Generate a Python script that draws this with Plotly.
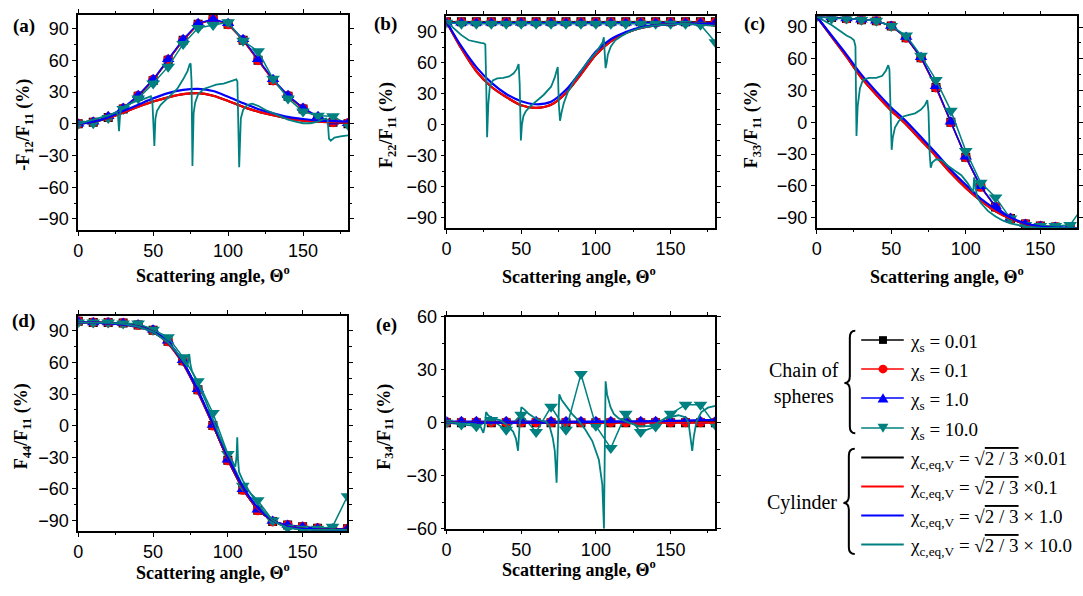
import plotly.graph_objects as go

W, H = 1083, 596

# ---------------- data ----------------
ANG = [0, 10, 20, 30, 40, 50, 60, 70, 80, 90, 100, 110, 120, 130, 140, 150, 160, 170, 180]

# (a) -F12/F11
A_S001 = [0, 1.5, 6, 14, 26, 41, 60, 79, 94, 99, 94, 79, 60, 41, 26, 14, 6, 1.5, 0]
A_S01 = [0, 1.5, 6, 14.5, 26.5, 41.5, 60.5, 79, 94, 99, 94, 79, 60, 41, 26.5, 14.5, 6, 1.5, 0.5]
A_S1 = [0, 2, 7, 15, 27, 42, 61, 80, 95, 99, 95, 80, 61, 42, 27, 15, 7, 2, 0.5]
A_S10 = [0, 0.5, 5.5, 14, 24, 38, 54, 75.5, 90.5, 93.5, 96, 78.5, 68.5, 42.5, 24, 11.5, 7.5, 7, -1]
A_C001 = [0, 2, 5.5, 10.5, 16, 21, 25, 28, 29, 26.5, 21.5, 16, 11.5, 8, 5, 3, 2, 1.5, 1]
A_C01 = [0, 2, 5.5, 10.5, 16, 21, 25, 28, 29, 26.5, 21.5, 16, 11.5, 8, 5, 3, 2, 1.5, 1]
A_C1 = [0, 2, 6, 12, 18, 24, 29, 32, 33, 31, 25.5, 19.5, 14, 10, 6.5, 4.5, 3, 2.5, 2]
A_C10 = [(0, 0), (5, 2), (10, 3.5), (15, 5.5), (20, 8), (24, 10), (25.5, 11), (26.5, 8), (27.2, -7),
         (28, 10), (29, 15), (32, 17.5), (36, 20), (40, 22), (44, 23.5), (47, 25), (48.5, 26),
         (49.5, 20), (50.2, -5), (50.8, -21), (51.5, 5), (52.5, 12), (55, 18), (58, 22), (62, 27),
         (66, 33), (70, 42), (73, 50), (74.3, 56), (75, 57), (75.6, 40), (76.2, -40), (77, 10),
         (78, 20), (80, 28), (84, 33), (88, 35), (92, 37), (97, 38), (101, 40), (104, 41),
         (105.5, 42), (106.2, 40), (106.8, 0), (107.4, -41), (108.5, 5), (110, 13), (113, 18),
         (116, 19), (120, 17), (125, 13), (130, 10), (135, 7), (140, 4), (145, 2), (150, 0.5),
         (155, 0.5), (160, 2), (164, 4.5), (165.5, 5), (166.5, 3), (167.3, -14), (168.5, -16),
         (171, -13), (175, -12), (180, -11)]

# (b) F22/F11
B_S001 = [100, 100, 100, 100, 100, 100, 100, 100, 100, 100, 100, 100, 100, 100, 100, 100, 100, 100, 100]
B_S01 = [99.5, 99.5, 99.5, 99.5, 99.5, 99.5, 99.5, 99.5, 99.5, 99.5, 99.5, 99.5, 99.5, 99.5, 99.5, 99.5, 99.5, 99.5, 99.5]
B_S1 = [99, 99, 99, 99, 99, 99, 99, 99, 99, 99, 99, 99, 99, 99, 99, 99, 99, 99, 99]
B_S10 = [99, 98, 98, 98, 98, 98, 98, 98, 98, 98, 98, 98, 98, 98, 98, 98, 98, 97, 80]
B_C001 = [100, 74, 52, 37, 27, 19, 16.5, 19.5, 31, 49, 68, 81, 89, 94, 96.5, 97.5, 98, 98, 98]
B_C01 = [100, 74, 52, 37, 27, 19, 16.5, 19.5, 31, 49, 68, 81, 89, 94, 96.5, 97.5, 98, 98, 98]
B_C1 = [100, 76, 56, 41, 30, 23, 20, 22.5, 34, 52, 71, 83, 90, 94.5, 96.5, 97.5, 98, 98, 98]
B_C10 = [(0, 100), (5, 93), (10, 87), (15, 82), (20, 80), (23, 79.5), (25, 79), (26, 78),
         (26.6, 40), (27.2, -12), (28, 20), (29, 37), (31, 43), (34, 45), (38, 45.5), (42, 47),
         (45, 50), (47, 54), (48.3, 59), (49, 40), (49.8, -15), (50.5, 0), (51.5, 8.5), (53, 13),
         (56, 18), (60, 22.5), (65, 29), (70, 37), (72.5, 46), (73.8, 53), (74.5, 56), (75.2, 20),
         (76, 4), (77, 12), (78.5, 21), (81, 31), (85, 42), (90, 52), (95, 62), (100, 70),
         (103, 76), (104.5, 80), (105.3, 85), (105.8, 70), (106.5, 55), (107.2, 60), (108, 68),
         (110, 76), (113, 82), (117, 86), (122, 90), (130, 94), (140, 96.5), (150, 97.5),
         (160, 98), (170, 97), (180, 96)]

# (c) F33/F11
C_S001 = [100, 99, 98, 97, 96, 91, 80, 61, 33, 0, -33, -61, -80, -91, -96, -98, -99, -100, -100]
C_S01 = [100, 99, 98, 97, 96, 91, 80, 61, 33, 0, -33, -61, -80, -91, -96, -98, -99, -100, -100]
C_S1 = [100, 99, 98, 97, 96, 91, 80.5, 61.5, 34, 0.5, -32.5, -60.5, -79.5, -90.5, -96, -98, -99, -99.5, -100]
C_S10 = [100, 98, 98, 97, 96, 91, 82, 63, 40, 11, -27, -57, -71, -91, -97, -98, -98, -97, -77]
C_C001 = [100, 81, 62, 42, 26, 11, -2, -17, -32, -48, -62, -74, -84, -91, -96, -99, -100, -100, -100]
C_C01 = [100, 81, 62, 42, 26, 11, -2, -17, -32, -48, -62, -74, -84, -91, -96, -99, -100, -100, -100]
C_C1 = [100, 82, 64, 45, 29, 14, 1, -14, -29, -45, -59, -72, -82, -90, -95.5, -98.5, -99.5, -100, -100]
C_C10 = [(0, 100), (5, 96), (10, 92), (15, 87), (20, 82), (23, 80), (25, 77.5), (26, 72),
         (26.7, -13), (27.5, 15), (29, 32), (31, 40), (35, 42), (40, 42), (44, 44), (46.5, 49),
         (48, 54), (48.8, 50), (49.6, -10), (50.3, -26), (51, -15), (52.5, -5), (55, 1), (58, 5.5),
         (62, 7), (66, 8.5), (70, 12), (72.5, 16), (74.2, 21), (75, 10), (75.8, -30), (76.5, -43),
         (77.5, -38), (80, -35), (84, -36), (88, -41), (92, -45), (97, -50), (101, -57), (104, -63),
         (105, -66), (105.6, -52), (106.3, -60), (107.5, -70), (110, -76), (115, -84), (120, -89),
         (125, -93), (130, -95.5), (140, -98.5), (150, -99.5), (160, -100), (170, -100), (180, -100)]

# (d) F44/F11
D_S001 = [99, 98, 98, 97.5, 95.5, 90.5, 80, 61.5, 34, 0, -33, -61, -80.5, -91, -94.5, -96, -97.5, -98, -98]
D_S01 = [99, 98, 98, 97.5, 95.5, 90.5, 80, 61.5, 34, 0, -33, -61, -80.5, -91, -94.5, -96, -97.5, -98, -98]
D_S1 = [99, 98, 98, 97.5, 96, 91, 80.5, 62, 34.5, 0.5, -32.5, -60.5, -80, -90.5, -94.5, -96, -97.5, -98, -98]
D_S10 = [98, 98, 98, 97, 97, 91, 84, 65, 42, 12, -27, -57, -71, -90, -97, -98, -98, -96, -67]
D_C001 = [98, 98, 97, 96, 94, 89, 78, 59, 32, 1, -31, -59, -79, -90, -96, -98, -98.5, -99, -99]
D_C01 = [98, 98, 97, 96, 94, 89, 78, 59, 32, 1, -31, -59, -79, -90, -96, -98, -98.5, -99, -99]
D_C1 = [98, 98, 97, 96, 94, 89, 79, 60, 33, 2, -30, -58, -78, -90, -96, -98, -98.5, -99, -99]
D_C10 = [(0, 98), (10, 98), (20, 97.5), (30, 96.5), (40, 94), (50, 89), (60, 79), (65, 71),
         (70, 61), (73, 56), (74.2, 68), (75, 58), (76, 52), (80, 40), (85, 24), (90, 6),
         (95, -12), (100, -27), (103, -34), (105, -39), (105.8, -30), (106.3, -11), (106.8, -32),
         (107.5, -44), (110, -52), (115, -64), (120, -74), (125, -83), (130, -90), (135, -94),
         (140, -97), (150, -99), (160, -99), (170, -99), (180, -99)]

# (e) F34/F11
E_S001 = [0, 0, 0, 0, 0, 0, 0, 0, 0, 0, 0, 0, 0, 0, 0, 0, 0, 0, 0]
E_S01 = [0.3, 0.3, 0.3, 0.3, 0.3, 0.3, 0.3, 0.3, 0.3, 0.3, 0.3, 0.3, 0.3, 0.3, 0.3, 0.3, 0.3, 0.3, 0.3]
E_S1 = [0.8, 0.8, 0.8, 0.8, 0.8, 0.8, 0.8, 0.8, 0.8, 0.8, 0.8, 0.8, 0.8, 0.8, 0.8, 0.8, 0.8, 0.8, 0.8]
E_S10 = [0, -1, -2, 1.5, -4, 4.5, -5.3, 9, -4, 27.5, -1.8, -14.4, 5, -5.3, -2.2, 5, 10.2, 10.2, -1.3]
E_C001 = [0, 0, 0, 0, 0, 0, 0, 0, 0, 0, 0.1, 0.2, 0.3, 0.4, 0.5, 0.5, 0.5, 0.5, 0.5]
E_C01 = [0, 0, 0, 0, 0, 0, 0, 0, 0, 0, 0, 0, 0, 0, 0, 0, 0, 0, 0]
E_C1 = [0, 0, 0, 0, 0, 0, 0, 0.1, 0.2, 0.3, 0.4, 0.5, 0.6, 0.7, 0.8, 1, 1.2, 1.4, 1.5]
E_C10 = [(0, 0), (5, 0), (10, -0.5), (15, -0.5), (20, -1), (23, -2.5), (24.7, -5.8), (25.6, -2),
         (26.5, 6), (28, 4), (31, 2.5), (35.8, 1.5), (40, -1), (44.6, -5), (46.5, -9), (47.9, -15.9),
         (48.8, -3), (50.1, 8.8), (52, 7.5), (55, 5), (57.9, 3.3), (62, 1.5), (66.7, 0.5), (69, -2),
         (71.1, -8.5), (72.5, -16), (73.7, -34), (74.5, -10), (75.5, 16), (77, 13), (79.9, 9.8),
         (84, 5), (88.8, 0.7), (93, -4), (97.6, -10.4), (102, -21), (104.3, -35), (105.4, -60),
         (105.9, -20), (106.5, 23.4), (107.5, 16), (109.8, 8.8), (112, 5), (115.3, 2.4), (122, 0),
         (128.6, -2), (137.5, -2), (146.3, 2.4), (155.2, 4.2), (160, 3), (162, 0), (163.5, -8),
         (164.5, -16), (165.5, -8), (167.3, 0.5), (170.6, 6), (175, 8.5), (180, 9.5)]

X_TICKS = [0, 50, 100, 150]
Y_TICKS_FULL = [-90, -60, -30, 0, 30, 60, 90]
Y_TICKS_E = [-60, -30, 0, 30, 60]

# ---------------- styling ----------------
BLACK, RED, BLUE, TEAL = '#000000', '#FF0000', '#0000FF', '#008080'
SERIF = 'Liberation Serif'
SANS = 'Liberation Sans'


def X(p):
    return p / W


def Y(p):
    return 1 - p / H


PANELS = [
    dict(name='a', box=(74, 346.5, 5, 227.7), yr=[-100.5, 103], xr=[0, 180], yt=Y_TICKS_FULL,
         data=(A_S001, A_S01, A_S1, A_S10, A_C001, A_C01, A_C1, A_C10),
         ytitle='-F<sub>12</sub>/F<sub>11</sub> (%)', ytpos=(19, 119), lab=(19, 17), xtpos=(210, 274)),
    dict(name='b', box=(446, 717.7, 5.7, 225.7), yr=[-100, 106], xr=[0, 180], yt=Y_TICKS_FULL,
         data=(B_S001, B_S01, B_S1, B_S10, B_C001, B_C01, B_C1, B_C10),
         ytitle='F<sub>22</sub>/F<sub>11</sub> (%)', ytpos=(386, 119), lab=(384, 15), xtpos=(580, 275)),
    dict(name='c', box=(820, 1083, 6.7, 225.7), yr=[-100, 100], xr=[0, 174.6], yt=Y_TICKS_FULL,
         data=(C_S001, C_S01, C_S1, C_S10, C_C001, C_C01, C_C1, C_C10),
         ytitle='F<sub>33</sub>/F<sub>11</sub> (%)', ytpos=(755, 119), lab=(757, 15), xtpos=(952, 275)),
    dict(name='d', box=(74, 346, 316.7, 539), yr=[-100, 104], xr=[0, 180], yt=Y_TICKS_FULL,
         data=(D_S001, D_S01, D_S1, D_S10, D_C001, D_C01, D_C1, D_C10),
         ytitle='F<sub>44</sub>/F<sub>11</sub> (%)', ytpos=(18, 431), lab=(19, 322), xtpos=(210, 581)),
    dict(name='e', box=(446, 717.7, 317.3, 536.7), yr=[-60, 60], xr=[0, 180], yt=Y_TICKS_E,
         data=(E_S001, E_S01, E_S1, E_S10, E_C001, E_C01, E_C1, E_C10),
         ytitle='F<sub>34</sub>/F<sub>11</sub> (%)', ytpos=(384, 431), lab=(385, 326), xtpos=(580, 578)),
]

fig = go.Figure()
layout = dict(width=W, height=H, margin=dict(l=0, r=0, t=0, b=0), paper_bgcolor='white',
              plot_bgcolor='white', showlegend=False)
annotations = []

SPH_STYLE = [(BLACK, 'square', 9), (RED, 'circle', 10), (BLUE, 'triangle-up', 11), (TEAL, 'triangle-down', 12)]
CYL_COLORS = [BLACK, RED, BLUE]

for i, p in enumerate(PANELS, start=1):
    xa = 'x' if i == 1 else f'x{i}'
    ya = 'y' if i == 1 else f'y{i}'
    l, r, t, b = p['box']
    s001, s01, s1, s10, c001, c01, c1, c10 = p['data']
    for vals, (col, sym, sz) in zip((s001, s01, s1, s10), SPH_STYLE):
        fig.add_trace(go.Scatter(x=ANG, y=vals, mode='lines+markers', xaxis=xa, yaxis=ya,
                                 line=dict(color=col, width=1.5),
                                 marker=dict(symbol=sym, size=sz, color=col, line=dict(width=0))))
    for vals, col in zip((c001, c01, c1), CYL_COLORS):
        fig.add_trace(go.Scatter(x=ANG, y=vals, mode='lines', xaxis=xa, yaxis=ya,
                                 line=dict(color=col, width=2.2, shape='spline', smoothing=0.8)))
    cx = [q[0] for q in c10]
    cy = [q[1] for q in c10]
    fig.add_trace(go.Scatter(x=cx, y=cy, mode='lines', xaxis=xa, yaxis=ya,
                             line=dict(color=TEAL, width=1.8)))

    axcommon = dict(showline=True, linecolor='black', linewidth=1.5, mirror='allticks',
                    ticks='outside', ticklen=4, tickwidth=1.3, tickcolor='black',
                    showgrid=False, zeroline=False,
                    tickfont=dict(family=SANS, size=18, color='black'))
    layout['xaxis' if i == 1 else f'xaxis{i}'] = dict(
        axcommon, domain=[X(l), X(r)], range=p['xr'], anchor=ya, tickvals=X_TICKS,
        minor=dict(ticks='outside', ticklen=2.5, tickwidth=1.2, tickcolor='black',
                   tickvals=[25, 75, 125, 175]))
    layout['yaxis' if i == 1 else f'yaxis{i}'] = dict(
        axcommon, domain=[Y(b), Y(t)], range=p['yr'], anchor=xa, tickvals=p['yt'],
        minor=dict(ticks='outside', ticklen=2.5, tickwidth=1.2, tickcolor='black',
                   tickvals=[v + 15 for v in p['yt'][:-1]]))

    annotations.append(dict(text='<b>Scattering angle, Θ<sup>o</sup></b>', x=X(p['xtpos'][0]),
                            y=Y(p['xtpos'][1]), xref='paper', yref='paper', showarrow=False,
                            xanchor='center', yanchor='middle',
                            font=dict(family=SERIF, size=18, color='black')))
    annotations.append(dict(text='<b>' + p['ytitle'] + '</b>', x=X(p['ytpos'][0]),
                            y=Y(p['ytpos'][1]), xref='paper', yref='paper', showarrow=False,
                            xanchor='center', yanchor='middle', textangle=-90,
                            font=dict(family=SERIF, size=18, color='black')))
    annotations.append(dict(text='<b>(' + p['name'] + ')</b>', x=X(p['lab'][0]), y=Y(p['lab'][1]),
                            xref='paper', yref='paper', showarrow=False, xanchor='center',
                            yanchor='middle', font=dict(family=SERIF, size=19, color='black')))

# ---------------- custom legend ----------------
shapes = []


def brace(xt, xb, xe, y0, ym, y1, rr=7):
    return (f"M {X(xe)},{Y(y0)} Q {X(xb)},{Y(y0)} {X(xb)},{Y(y0 + rr)} "
            f"L {X(xb)},{Y(ym - rr)} Q {X(xb)},{Y(ym)} {X(xt)},{Y(ym)} "
            f"Q {X(xb)},{Y(ym)} {X(xb)},{Y(ym + rr)} L {X(xb)},{Y(y1 - rr)} "
            f"Q {X(xb)},{Y(y1)} {X(xe)},{Y(y1)}")


for path in (brace(848, 853.5, 859, 332, 386, 438), brace(847, 852.5, 858.5, 454, 510, 563)):
    shapes.append(dict(type='path', path=path, xref='paper', yref='paper',
                       line=dict(color='black', width=2)))

SPH_ROWS = [341.5, 371.5, 401.5, 432.5]
CYL_ROWS = [463, 493, 523, 553]
SPH_LABELS = ['0.01', '0.1', '1.0', '10.0']
CYL_LABELS = ['×0.01', '×0.1', '× 1.0', '× 10.0']
COLS4 = [BLACK, RED, BLUE, TEAL]
LX0, LX1, LXM, TX = 865, 908, 887, 912

for k, yy in enumerate(SPH_ROWS):
    col = COLS4[k]
    shapes.append(dict(type='line', xref='paper', yref='paper', x0=X(LX0), x1=X(LX1), y0=Y(yy), y1=Y(yy),
                       line=dict(color=col, width=1.5)))
    if k == 0:
        shapes.append(dict(type='rect', xref='paper', yref='paper', x0=X(LXM - 4), x1=X(LXM + 4),
                           y0=Y(yy - 4), y1=Y(yy + 4), fillcolor=col, line=dict(width=0)))
    elif k == 1:
        shapes.append(dict(type='circle', xref='paper', yref='paper', x0=X(LXM - 4.5), x1=X(LXM + 4.5),
                           y0=Y(yy - 4.5), y1=Y(yy + 4.5), fillcolor=col, line=dict(width=0)))
    elif k == 2:
        shapes.append(dict(type='path', xref='paper', yref='paper',
                           path=f"M {X(LXM - 5.5)},{Y(yy + 4.5)} L {X(LXM + 5.5)},{Y(yy + 4.5)} L {X(LXM)},{Y(yy - 5)} Z",
                           fillcolor=col, line=dict(width=0)))
    else:
        shapes.append(dict(type='path', xref='paper', yref='paper',
                           path=f"M {X(LXM - 5.5)},{Y(yy - 4.5)} L {X(LXM + 5.5)},{Y(yy - 4.5)} L {X(LXM)},{Y(yy + 5)} Z",
                           fillcolor=col, line=dict(width=0)))
    annotations.append(dict(text=f'χ<sub>s</sub> = {SPH_LABELS[k]}', x=X(TX), y=Y(yy + 3),
                            xref='paper', yref='paper', showarrow=False, xanchor='left',
                            yanchor='middle', font=dict(family=SERIF, size=19, color='black')))

for k, yy in enumerate(CYL_ROWS):
    col = COLS4[k]
    shapes.append(dict(type='line', xref='paper', yref='paper', x0=X(LX0), x1=X(LX1), y0=Y(yy), y1=Y(yy),
                       line=dict(color=col, width=2)))
    annotations.append(dict(
        text=f"χ<sub>c,eq,V</sub> = √<span style='text-decoration:overline'>2 / 3</span> {CYL_LABELS[k]}",
        x=X(TX), y=Y(yy + 3), xref='paper', yref='paper', showarrow=False, xanchor='left',
        yanchor='middle', font=dict(family=SERIF, size=19, color='black')))

annotations.append(dict(text='Chain of<br>spheres', x=X(807), y=Y(386), xref='paper', yref='paper',
                        showarrow=False, xanchor='center', yanchor='middle',
                        font=dict(family=SERIF, size=20, color='black')))
annotations.append(dict(text='Cylinder', x=X(805), y=Y(510), xref='paper', yref='paper',
                        showarrow=False, xanchor='center', yanchor='middle',
                        font=dict(family=SERIF, size=20, color='black')))

layout['annotations'] = annotations
layout['shapes'] = shapes
fig.update_layout(**layout)
fig.write_html('out.html')
